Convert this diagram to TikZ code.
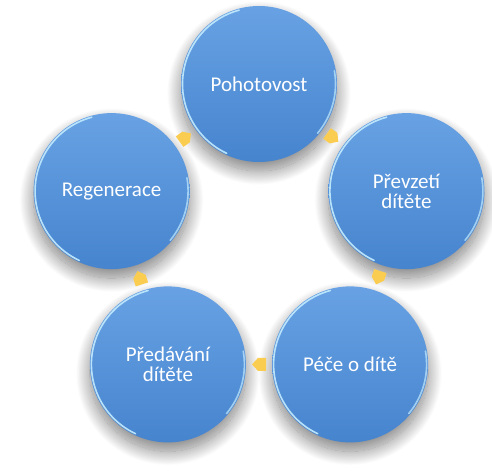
\documentclass[tikz,border=0pt]{standalone}
\usepackage{fontspec}
\setmainfont{Carlito}
\usetikzlibrary{calc,shadows.blur}
\definecolor{ctop}{RGB}{104,162,228}
\definecolor{cbot}{RGB}{70,132,206}
\definecolor{arrowy}{RGB}{250,204,80}
\definecolor{rimc}{RGB}{195,236,255}
\tikzset{
  bubble/.style={circle, minimum size=156pt, inner sep=0pt, top color=ctop, bottom color=cbot,
    draw=none, blur shadow={shadow xshift=0pt, shadow yshift=-9pt, shadow blur radius=14pt, shadow blur steps=24, shadow opacity=50},
    text=white, align=center, font=\fontsize{21}{20}\selectfont},
  rim/.style={draw=rimc, line width=1.6pt, opacity=0.9, line cap=round},
  chev/.style={fill=arrowy, draw=none}
}
\newcommand{\mychev}[2]{%
  \fill[chev, shift={(#1)}, rotate=#2] (-7,-6.5) -- (1,-6.5) -- (7,0) -- (1,6.5) -- (-7,6.5) -- cycle;}
\newcommand{\myrim}[1]{%
  \draw[rim] ($(#1.center)+(105:76.5)$) arc[start angle=105, end angle=245, radius=76.5];
  \draw[rim, opacity=0.7] ($(#1.center)+(-40:76.5)$) arc[start angle=-40, end angle=10, radius=76.5];}
\begin{document}
\begin{tikzpicture}[x=1pt,y=1pt]
\useasboundingbox (0,0) rectangle (492,472);
\coordinate (c) at (259,233);
\node[bubble] (p1) at ($(c)+(90:155)$) {Pohotovost};
\node[bubble] (p2) at ($(c)+(18:155)$) {Převzetí\\dítěte};
\node[bubble] (p3) at ($(c)+(-54:155)$) {Péče o dítě};
\node[bubble] (p4) at ($(c)+(-126:155)$) {Předávání\\dítěte};
\node[bubble] (p5) at ($(c)+(162:155)$) {Regenerace};
\foreach \n in {p1,p2,p3,p4,p5}{\myrim{\n}}
\coordinate (a12) at ($(p1)!0.5!(p2)$);
\coordinate (a23) at ($(p2)!0.5!(p3)$);
\coordinate (a34) at ($(p3)!0.5!(p4)$);
\coordinate (a45) at ($(p4)!0.5!(p5)$);
\coordinate (a51) at ($(p5)!0.5!(p1)$);
\mychev{a12}{-36}
\mychev{a23}{-108}
\mychev{a34}{180}
\mychev{a45}{108}
\mychev{a51}{36}
\end{tikzpicture}
\end{document}
